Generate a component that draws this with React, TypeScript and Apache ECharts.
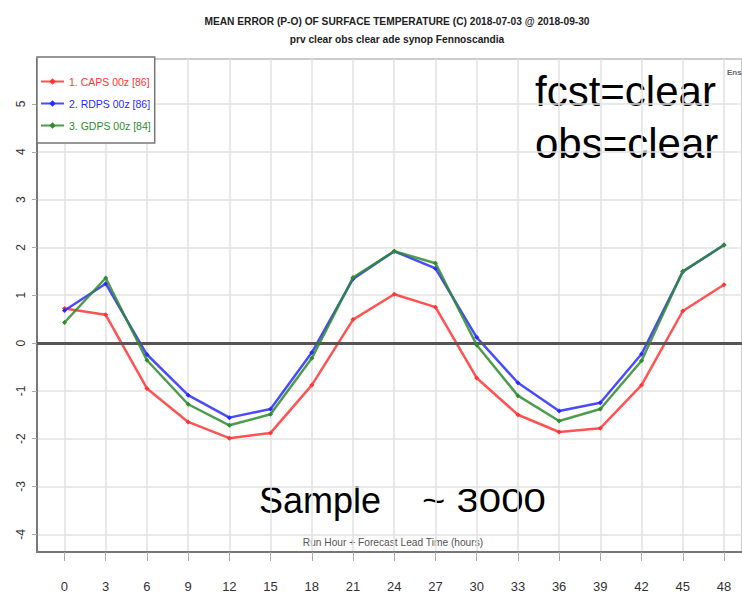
import React, { useEffect, useRef } from "react";
import * as echarts from "echarts";

const hours = [0, 3, 6, 9, 12, 15, 18, 21, 24, 27, 30, 33, 36, 39, 42, 45, 48];
const capsValues = [0.72, 0.59, -0.95, -1.65, -1.99, -1.88, -0.88, 0.49, 1.02, 0.75, -0.73, -1.5, -1.86, -1.78, -0.88, 0.67, 1.22];
const rdpsValues = [0.68, 1.24, -0.24, -1.09, -1.56, -1.38, -0.2, 1.34, 1.92, 1.56, 0.12, -0.83, -1.42, -1.25, -0.23, 1.49, 2.05];
const gdpsValues = [0.43, 1.36, -0.36, -1.28, -1.72, -1.49, -0.32, 1.37, 1.92, 1.67, -0.04, -1.1, -1.63, -1.38, -0.37, 1.5, 2.05];
const seriesNames = ["1. CAPS 00z [86]", "2. RDPS 00z [86]", "3. GDPS 00z [84]"];
const yTicks = [-4, -3, -2, -1, 0, 1, 2, 3, 4, 5];
const xTicks = [0, 3, 6, 9, 12, 15, 18, 21, 24, 27, 30, 33, 36, 39, 42, 45, 48];

const SANS = "'Liberation Sans', Arial, sans-serif";
const colors = ["#ff3535", "#2a2aff", "#2e8b2e"];
const X_MIN = -2;
const X_MAX = 49.31;

export default function App() {
  const ref = useRef<HTMLDivElement>(null);
  useEffect(() => {
    if (!ref.current) return;
    const chart = echarts.init(ref.current, undefined, { renderer: "svg" });
    const all = [capsValues, rdpsValues, gdpsValues];
    chart.setOption({
      animation: false,
      backgroundColor: "#ffffff",
      title: {
        text: "MEAN ERROR (P-O) OF SURFACE TEMPERATURE (C) 2018-07-03 @ 2018-09-30",
        subtext: "prv clear obs clear ade synop Fennoscandia",
        left: 392,
        textAlign: "center",
        top: 11,
        itemGap: 8,
        textStyle: { fontFamily: SANS, fontSize: 10.2, fontWeight: "bold", color: "#222" },
        subtextStyle: { fontFamily: SANS, fontSize: 10.2, fontWeight: "bold", color: "#222" },
      },
      legend: {
        orient: "vertical",
        left: 37,
        top: 57,
        padding: [19, 4, 12, 3],
        itemGap: 11,
        itemWidth: 23,
        itemHeight: 8,
        borderColor: "#777",
        borderWidth: 1.5,
        backgroundColor: "#fff",
        data: seriesNames.map((n, i) => ({ name: n, textStyle: { color: colors[i] } })),
        textStyle: { fontFamily: SANS, fontSize: 10.5 },
      },
      grid: { left: 37, top: 59, right: 0, bottom: 45, show: true, borderColor: "#999", borderWidth: 1 },
      xAxis: {
        type: "value",
        min: X_MIN,
        max: X_MAX,
        axisLine: { show: true, onZero: false, lineStyle: { color: "#777", width: 2 } },
        axisTick: { show: true, customValues: xTicks, length: 9, lineStyle: { color: "#aaa" } },
        axisLabel: { customValues: xTicks, margin: 28, fontFamily: SANS, fontSize: 13, color: "#333" },
        splitLine: { show: true, lineStyle: { color: "#e2e2e2", width: 1.5 } },
      },
      yAxis: {
        type: "value",
        min: -4.37,
        max: 5.94,
        axisLine: { show: true, onZero: false, lineStyle: { color: "#777", width: 2 } },
        axisTick: { show: true, customValues: yTicks, length: 5, lineStyle: { color: "#aaa" } },
        axisLabel: { show: true, customValues: yTicks, rotate: 90, margin: 10, fontFamily: SANS, fontSize: 12, color: "#333" },
        splitLine: { show: true, lineStyle: { color: "#e2e2e2", width: 1.5 } },
      },
      graphic: [
        { type: "text", left: 535, top: 70, style: { text: "fcst=clear", fontFamily: SANS, fontSize: 42, fill: "#000" } },
        { type: "text", left: 535, top: 122, style: { text: "obs=clear", fontFamily: SANS, fontSize: 42, fill: "#000" } },
        { type: "text", x: 259, y: 518, style: { text: "Sample", fontFamily: SANS, fontSize: 36, fill: "#000", verticalAlign: "bottom" } },
        { type: "text", x: 422, y: 517, scaleX: 1.18, style: { text: "~ 3000", fontFamily: SANS, fontSize: 34, fill: "#000", verticalAlign: "bottom" } },
        { type: "text", x: 393, y: 542, style: { text: "Run Hour + Forecast Lead Time (hours)", align: "center", verticalAlign: "middle", fontFamily: SANS, fontSize: 10.2, fill: "#555" } },
        { type: "text", x: 727, y: 72, style: { text: "Ens", verticalAlign: "middle", fontFamily: SANS, fontSize: 8, fontWeight: "bold", fill: "#666" } },
      ],
      series: [
        ...all.map((vals, i) => ({
          name: seriesNames[i],
          type: "line",
          data: hours.map((h, j) => [h, vals[j]]),
          symbol: "diamond",
          symbolSize: 5,
          color: colors[i],
          lineStyle: { width: 2.5, opacity: 0.85 },
          z: 3 + i,
        })),
        {
          type: "line",
          data: [],
          silent: true,
          markLine: {
            symbol: "none",
            silent: true,
            label: { show: false },
            lineStyle: { color: "#555", width: 3, type: "solid" },
            data: [{ yAxis: 0 }],
          },
          z: 2,
        },
      ],
    });
    return () => chart.dispose();
  }, []);
  return <div ref={ref} style={{ position: "fixed", left: 0, top: 0, width: 742, height: 597 }} />;
}
